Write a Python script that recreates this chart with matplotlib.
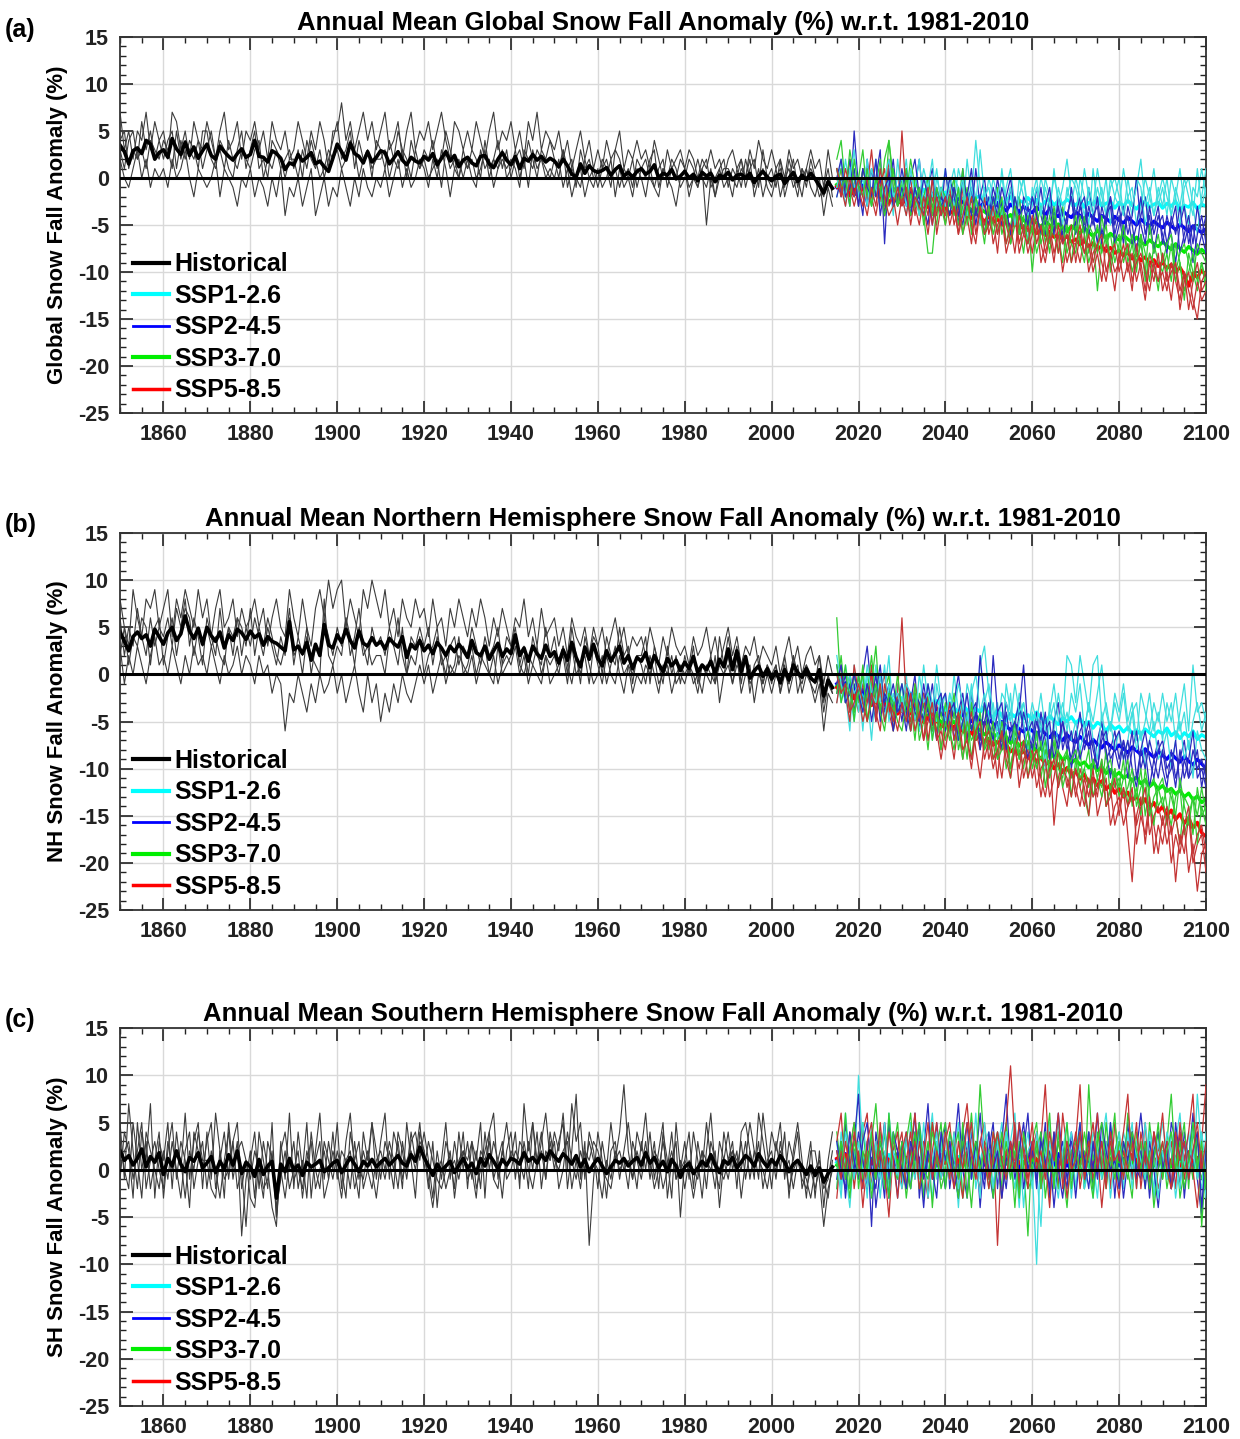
import numpy as np
import matplotlib.pyplot as plt
from matplotlib.lines import Line2D
from matplotlib.ticker import MultipleLocator

plt.rcParams['font.family'] = ['Liberation Sans', 'DejaVu Sans']
plt.rcParams['font.weight'] = 'bold'
plt.rcParams['axes.unicode_minus'] = False

# ---------------- (a) global ----------------
glb_hist_mean = [
    3.5, 2.8, 1.5, 2.9, 3.2, 2.6, 4.0, 3.6, 2.0, 2.7,
    3.0, 2.2, 4.2, 3.1, 2.5, 3.8, 2.4, 3.3, 2.1, 2.9,
    3.6, 2.4, 2.0, 3.4, 2.8, 2.3, 1.9, 2.6, 3.1, 2.2,
    2.5, 4.0, 2.3, 2.2, 1.7, 2.9, 2.6, 2.1, 0.9, 1.6,
    1.4, 2.5, 1.8, 2.2, 2.7, 1.5, 1.8, 1.2, 0.7, 2.1,
    3.6, 2.8, 1.9, 3.7, 2.6, 2.3, 1.6, 2.8, 1.7, 2.2,
    2.9, 2.7, 1.5, 2.1, 2.8, 1.9, 1.4, 2.2, 1.8, 1.6,
    2.3, 1.9, 2.6, 1.4, 2.1, 2.8, 1.8, 2.4, 1.2, 1.9,
    2.2, 1.6, 1.3, 2.3, 2.4, 1.5, 1.1, 2.0, 2.7, 1.9,
    1.4, 2.3, 1.0, 2.1, 1.8, 2.5, 1.9, 2.3, 1.7, 2.1,
    1.8, 1.2, 2.0, 1.3, 0.4, 0.1, 1.5, 0.5, 1.3, 0.8,
    0.6, 0.8, 1.1, 0.3, 0.9, 1.3, 0.2, 0.6, 0.1, 0.7,
    1.0, 0.4, 0.7, 1.4, 0.0, 0.5, 0.3, 0.9, -0.1, 0.2,
    0.7, 0.0, 0.4, -0.3, 0.6, 0.2, 0.5, -0.4, 0.3, 0.1,
    0.6, -0.2, 0.3, 0.4, 0.0, 0.5, -0.5, 0.2, 0.7, 0.1,
    -0.3, 0.2, 0.4, -0.6, 0.0, 0.6, -0.4, 0.3, -0.2, 0.5,
    -0.1, -0.8, -1.6, -0.4, -1.1]
glb_hist_runs = [
    [7, 3, 5, 2, 5, 4, 7, 3, 6, 4,
     5, 2, 7, 6, 3, 5, 2, 6, 4, 3,
     6, 4, 2, 5, 7, 3, 4, 6, 2, 5,
     4, 6, 3, 5, 2, 6, 4, 3, 5, 2,
     3, 6, 4, 2, 5, 3, 6, 4, 1, 5,
     5, 8, 4, 6, 3, 5, 7, 4, 6, 3,
     5, 7, 3, 4, 6, 2, 5, 7, 3, 5,
     4, 6, 3, 5, 7, 4, 2, 6, 5, 3,
     5, 3, 6, 4, 2, 5, 7, 3, 5, 4,
     6, 3, 5, 2, 6, 4, 7, 3, 5, 4,
     3, 5, 2, 4, 1, 3, 5, 2, 4, 1,
     3, 1, 4, 2, 3, 5, 1, 3, 2, 4,
     2, 3, 1, 4, 2, 0, 3, 1, 2, 3,
     1, 3, 2, 0, 2, 1, 3, 1, 2, 0,
     2, 3, 1, 2, 0, 3, 1, 4, 2, 1,
     3, 1, 2, 0, 3, 1, 2, 0, 1, 3,
     1, 2, -1, 3, 0],
    [2, 0, -1, 1, 3, 0, 2, -1, 1, 0,
     1, -1, 2, 0, 1, 3, 0, -2, 1, 0,
     -1, 0, 2, -2, 1, 0, -1, -3, 0, -1,
     1, -2, 0, -1, -3, 0, -2, 1, -4, -1,
     -2, 0, -3, -1, 1, -4, -2, 0, -3, -1,
     -2, 1, -1, -3, 0, -2, 1, -1, -2, 0,
     -1, 1, -2, 0, 2, -1, 1, -1, 0, 2,
     1, -1, 2, 0, 3, 1, -2, 1, 2, 0,
     2, 0, -1, 3, 1, 2, -1, 1, 3, 0,
     1, 3, 0, 2, -1, 3, 1, 2, 0, 1,
     0, 2, -1, 1, -2, 0, 1, -2, 0, -1,
     1, -1, 0, 2, -2, 1, -1, 0, -2, 1,
     0, -2, 1, -1, -2, 1, 0, -1, -3, 0,
     1, -2, 0, -1, 1, -5, 0, -2, 1, -1,
     0, -2, 1, -1, 2, 0, -1, 1, -2, 0,
     -1, 1, -2, 0, 1, -1, 0, -2, 1, -1,
     -2, 0, -4, -1, -3],
    [4, 5, 1, 3, 2, 6, 3, 5, 2, 4,
     2, 4, 5, 1, 4, 2, 4, 3, 1, 5,
     5, 2, 1, 4, 3, 1, 0, 3, 5, 1,
     3, 5, 1, 2, 0, 4, 3, 1, 2, 3,
     1, 3, 0, 4, 2, 1, 3, 0, 2, 4,
     6, 2, 3, 5, 1, 4, 2, 3, 0, 4,
     3, 1, 4, 2, 5, 3, 0, 4, 2, 1,
     3, 2, 4, 1, 2, 5, 3, 1, 0, 3,
     1, 3, 2, 0, 4, 1, 2, 4, 1, 3,
     0, 2, 3, 1, 4, 2, 0, 3, 2, 4,
     2, 0, 3, 1, 2, -1, 3, 1, 2, 0,
     0, 2, 1, -1, 3, 2, 0, 1, -1, 2,
     1, 0, 2, 3, -1, 1, 0, 2, 1, -1,
     0, 2, 1, -1, 1, 2, -1, 0, 1, 2,
     -1, 1, 0, 2, -1, 1, 2, -1, 3, 0,
     1, -1, 2, -2, 0, 2, -1, 1, -1, 2,
     0, -2, -1, 1, -2],
    [3, 1, 4, 5, 2, 3, 1, 4, 3, 2,
     4, 3, 1, 5, 2, 4, 3, 2, 4, 1,
     3, 5, 2, 3, 1, 4, 2, 1, 3, 2,
     1, 3, 4, 0, 2, 1, 3, 2, 0, 2,
     2, 0, 3, 1, 4, 2, 0, 1, 3, 2,
     3, 1, 2, 4, 3, 0, 2, 3, 1, 2,
     2, 3, 0, 2, 1, 3, 2, 0, 3, 1,
     2, 0, 1, 2, -1, 3, 1, 2, 0, 2,
     1, 2, 0, 1, 3, 0, 2, 1, 2, 1,
     2, 1, -1, 3, 2, 1, 3, 2, 1, 0,
     2, 1, 3, -1, 1, 0, -1, 2, 0, 1,
     -1, 1, 2, 0, 1, -1, 1, 0, 2, -1,
     1, 2, 0, -1, 1, 2, -1, 1, 0, 2,
     1, -1, 0, 2, 0, -1, 1, -2, 0, 1,
     1, 0, -1, 1, 0, 2, -2, 0, 1, -1,
     -2, 0, 1, -1, 2, 0, -2, 1, 0, 1,
     0, -1, -2, 0, -1]]

glb_ssp126_mean = [
    -0.8, -1.2, -0.5, -1.6, -0.9,
    -1.3, -0.7, -1.8, -1.1, -1.5, -0.9, -2.0, -1.2, -1.6, -1.0,
    -1.7, -1.3, -2.1, -1.4, -1.9, -1.2, -2.2, -1.6, -1.8, -2.4,
    -1.5, -2.0, -2.6, -1.8, -2.3, -1.7, -2.5, -2.1, -1.9, -2.7,
    -2.2, -2.6, -1.9, -2.8, -2.3, -2.0, -2.9, -2.4, -2.6, -2.1,
    -2.7, -2.3, -3.0, -2.5, -2.2, -2.9, -2.4, -2.8, -2.3, -2.6,
    -2.9, -2.4, -3.1, -2.6, -2.8, -2.2, -3.0, -2.7, -2.5, -3.2,
    -2.6, -3.0, -2.4, -2.9, -3.3, -2.7, -2.5, -3.1, -2.8, -2.6,
    -3.2, -2.7, -3.0, -2.5, -3.4, -2.9, -3.1, -2.6, -3.3, -2.8,
    -3.0]
glb_ssp126_runs = [
    [1, -2, 2, -1, 0,
     -3, 1, 0, -2, 2, -1, -4, 1, -2, 0,
     -1, 2, -3, 0, -2, 1, -1, -4, 0, -2,
     1, -3, 0, -1, -4, 2, -2, 4, -1, -3,
     0, -2, -4, 1, -3, -1, -5, 0, -2, -7,
     -1, -3, 0, -2, -4, 1, -3, -1, 2, -2,
     -4, 0, -2, -5, 1, -3, -1, -4, 0, -2,
     -3, 1, -2, -4, 0, -1, -5, -2, 1, -3,
     -1, -4, 0, -2, 1, -3, -5, -1, -2, 1,
     -2],
    [-2, 0, -3, 1, -1,
     0, -2, 2, -3, -1, 1, -2, 0, -4, 2,
     -2, -4, 0, -1, 2, -3, 0, -2, 1, -3,
     -2, 0, -3, 1, -1, -4, 0, -2, -5, -1,
     -3, 0, -2, -4, -1, 1, -3, -2, 0, -4,
     -3, -1, -4, 0, -2, -5, -1, -3, -2, 0,
     -1, -3, 1, -2, -4, -1, -3, 0, -5, -2,
     0, -4, -2, -1, -5, -3, 0, -2, -4, -1,
     -3, 0, -4, -2, -5, -1, 0, -3, -6, -2,
     1],
    [-1, 2, -2, 0, 3,
     -2, 0, -3, 1, -1, -3, 0, 2, -2, -1,
     0, -3, 1, -2, -4, 0, -1, 2, -3, -1,
     -3, -1, 1, -2, 0, -4, -1, -3, 3, -2,
     -1, -4, -2, 0, -3, -1, -5, -2, 0, -3,
     -2, 0, -4, -1, -3, 0, -2, -5, -1, -3,
     0, -2, -4, -1, -3, 1, -2, -4, -1, 0,
     -2, -4, 0, -3, -1, 2, -3, -1, -4, -2,
     0, -2, -4, -1, -3, 0, -2, -4, 1, -3,
     -1]]
glb_ssp245_mean = [
    -1.0, -0.6, -1.5, -0.9, -1.8,
    -1.2, -0.8, -1.9, -1.4, -1.0, -2.1, -1.5, -1.7, -1.1, -2.2,
    -1.6, -2.0, -1.3, -2.4, -1.8, -2.1, -2.6, -1.7, -2.3, -2.0,
    -2.5, -1.9, -2.8, -2.2, -2.6, -3.0, -2.3, -2.7, -3.1, -2.5,
    -2.9, -3.3, -2.6, -3.1, -3.5, -2.8, -3.2, -3.6, -3.0, -3.4,
    -3.7, -3.1, -3.5, -3.9, -3.3, -3.8, -4.1, -3.5, -3.9, -4.2,
    -3.6, -4.0, -4.4, -3.8, -4.2, -4.6, -4.0, -4.3, -4.7, -4.1,
    -4.5, -4.8, -4.2, -4.6, -5.0, -4.4, -4.8, -5.1, -4.6, -5.0,
    -5.3, -4.7, -5.1, -5.5, -4.9, -5.3, -5.7, -5.1, -5.5, -5.8,
    -5.4]
glb_ssp245_runs = [
    [1, -2, 0, -3, 5,
     -1, -4, 2, -2, 0, 3, -7, 1, -3, -1,
     -2, 1, -4, -1, 2, -3, -5, 0, -2, -4,
     1, -3, -1, -5, 0, -2, -4, 1, -3, -6,
     -2, -4, 0, -3, -5, -1, -4, -6, -2, -3,
     -5, -1, -4, -6, -2, -5, -3, -7, -4, -2,
     -6, -3, -5, -1, -4, -7, -3, -5, -2, -6,
     -4, -7, -3, -5, -8, -4, -2, -6, -5, -3,
     -7, -4, -6, -9, -5, -3, -7, -5, -8, -6,
     -4],
    [-2, 0, -1, 2, -2,
     0, -1, -3, 1, -2, 0, -4, -1, 2, -3,
     -1, -3, 0, 2, -2, -4, -1, 1, -3, -2,
     -3, 0, -2, -4, 1, -3, -1, -5, -2, 0,
     -4, -1, -3, -5, -2, 0, -4, -2, -6, -3,
     -2, -4, -1, -5, -3, -6, -2, -4, -5, -1,
     -4, -2, -6, -3, -5, -2, -6, -4, -3, -7,
     -5, -3, -6, -4, 0, -5, -7, -3, -6, -4,
     -6, -8, -4, -6, -3, -7, -5, -9, -6, -4,
     -7],
    [0, 2, -2, -1, 1,
     -3, 1, -1, -2, 2, -4, -1, 0, -3, -2,
     1, -2, -4, -1, -3, 0, -2, -5, -1, -3,
     -2, -4, -1, -3, -5, -2, 1, -4, -2, -3,
     -5, -2, -4, -1, -3, -6, -2, -4, -3, -5,
     -2, -4, -6, -3, -1, -5, -3, -6, -4, -2,
     -5, -3, -2, -6, -4, -3, -7, -4, -2, -5,
     -3, -6, -4, -7, -5, -2, -6, -4, -8, -5,
     -4, -7, -5, -3, -8, -6, -4, -7, -3, -6,
     -8]]
glb_ssp370_mean = [
    -0.7, -1.3, -0.9, -1.7, -1.1,
    -1.5, -1.0, -2.0, -1.4, -1.8, -1.2, -2.2, -1.6, -2.4, -1.9,
    -2.1, -2.6, -1.8, -2.4, -2.9, -2.2, -2.7, -3.0, -2.5, -2.8,
    -3.1, -2.6, -3.3, -2.9, -3.5, -3.0, -3.4, -3.8, -3.2, -3.6,
    -3.9, -3.4, -4.1, -3.7, -4.3, -3.9, -4.6, -4.1, -4.5, -4.9,
    -4.4, -4.8, -5.2, -4.6, -5.0, -5.4, -4.9, -5.3, -5.7, -5.1,
    -5.5, -5.9, -5.3, -5.8, -6.2, -5.6, -6.0, -6.4, -5.9, -6.3,
    -6.6, -6.1, -6.5, -6.9, -6.3, -6.8, -7.1, -6.6, -7.0, -7.3,
    -6.8, -7.2, -7.6, -7.0, -7.5, -7.9, -7.3, -7.7, -8.1, -7.6,
    -8.0]
glb_ssp370_runs = [
    [2, 4, -1, 1, -2,
     0, 3, -2, 1, -1, 2, -3, 4, 0, -2,
     -1, 1, -3, 0, -2, -4, -8, -8, -3, -1,
     -4, -2, 0, -5, -3, -1, -6, -2, -4, -7,
     -3, -5, -1, -6, -4, -7, -2, -5, -8, -4,
     -10, -5, -3, -7, -4, -6, -8, -3, -6, -9,
     -5, -7, -4, -8, -6, -12, -7, -5, -9, -6,
     -8, -5, -9, -7, -10, -6, -8, -11, -7, -9,
     -10, -8, -11, -7, -9, -13, -8, -10, -12, -9,
     -11],
    [-1, 1, -2, 3, 0,
     -2, 1, -1, -3, 0, -2, 2, 4, -1, -3,
     0, -2, 2, -1, -4, -2, 0, -3, -5, -1,
     -2, -4, -1, -3, 1, -5, -2, -4, -3, -6,
     -5, -2, -6, -3, -4, -7, -5, -2, -6, -4,
     -6, -3, -7, -5, -8, -4, -6, -9, -5, -7,
     -8, -4, -6, -9, -7, -5, -8, -6, -10, -7,
     -6, -9, -7, -10, -8, -6, -11, -8, -9, -12,
     -8, -10, -7, -11, -9, -12, -10, -8, -11, -9,
     -12],
    [1, -1, 0, -3, 2,
     -1, -2, 1, -3, 0, -1, -4, -2, 1, -3,
     -2, 0, -4, -3, -1, -5, -2, -4, -1, -3,
     -5, -2, -4, -1, -6, -3, -5, -2, -4, -6,
     -3, -6, -4, -2, -7, -5, -3, -6, -4, -7,
     -5, -8, -6, -4, -7, -3, -6, -5, -8, -6,
     -4, -7, -9, -5, -6, -8, -4, -7, -6, -9,
     -7, -5, -8, -6, -9, -7, -10, -5, -8, -6,
     -9, -7, -6, -10, -8, -7, -9, -11, -7, -8,
     -9]]
glb_ssp585_mean = [
    -0.9, -1.4, -0.8, -1.9, -1.2,
    -1.6, -1.1, -2.2, -1.7, -1.3, -2.4, -1.9, -2.6, -2.0, -2.3,
    -2.8, -2.2, -3.0, -2.5, -3.3, -2.7, -3.1, -3.6, -2.9, -3.4,
    -3.2, -3.8, -3.4, -4.0, -3.6, -3.9, -4.3, -3.7, -4.2, -4.6,
    -4.1, -4.7, -4.4, -5.0, -4.6, -5.2, -4.8, -5.4, -5.1, -5.6,
    -5.3, -5.9, -5.5, -6.1, -5.7, -6.3, -6.0, -6.6, -6.2, -6.8,
    -6.5, -7.1, -6.7, -7.3, -6.9, -7.6, -7.2, -7.8, -7.4, -8.0,
    -7.7, -8.3, -7.9, -8.6, -8.1, -8.8, -8.4, -9.1, -8.7, -9.4,
    -9.0, -9.6, -9.2, -10.0, -9.5, -10.3, -11.5, -10.1, -10.6, -9.8,
    -10.4]
glb_ssp585_runs = [
    [-1, 1, -2, 2, 0,
     -3, 1, -1, 3, -2, 0, -4, 2, -1, -3,
     5, -2, 0, -4, -1, -3, -6, -2, -4, -1,
     -5, -2, -3, -6, -1, -4, -7, -3, -5, -2,
     -6, -4, -8, -3, -5, -7, -4, -8, -6, -5,
     -8, -5, -7, -9, -6, -4, -8, -6, -9, -7,
     -7, -9, -6, -10, -8, -7, -9, -11, -8, -10,
     -9, -7, -10, -8, -11, -9, -12, -8, -10, -11,
     -10, -12, -9, -11, -13, -10, -12, -14, -11, -13,
     -12],
    [0, -2, 1, -1, -3,
     -1, -3, 0, -2, -4, -1, 1, -3, -2, -5,
     -2, -4, -1, -3, -5, -2, -4, 0, -6, -3,
     -4, -1, -5, -3, -6, -4, -2, -6, -3, -5,
     -3, -7, -5, -4, -8, -6, -3, -7, -5, -8,
     -6, -4, -9, -7, -5, -8, -6, -10, -7, -5,
     -9, -6, -8, -7, -10, -8, -11, -7, -9, -12,
     -8, -11, -9, -12, -7, -10, -13, -9, -11, -8,
     -12, -10, -13, -9, -14, -11, -10, -13, -15, -11,
     -10],
    [1, -1, -3, 0, -2,
     0, -2, -4, -1, -3, 1, -2, -4, -3, -1,
     -3, -1, -5, -2, -3, -4, -1, -5, -2, -4,
     -2, -5, -3, -6, -4, -2, -5, -7, -3, -6,
     -5, -3, -6, -4, -7, -5, -8, -4, -6, -7,
     -4, -7, -5, -8, -6, -9, -5, -7, -6, -9,
     -7, -5, -8, -6, -9, -7, -6, -10, -8, -7,
     -10, -8, -7, -11, -9, -8, -10, -12, -9, -11,
     -8, -11, -10, -9, -12, -10, -14, -11, -9, -12,
     -11]]

# ---------------- (b) northern hemisphere ----------------
nh_hist_mean = [
    4.5, 3.5, 2.5, 4.0, 4.5, 3.8, 4.2, 3.0, 4.8, 4.0,
    3.2, 4.4, 5.0, 3.6, 4.3, 6.2, 4.6, 3.8, 4.9, 3.2,
    5.0, 4.1, 3.5, 4.5, 2.8, 4.2, 3.6, 4.8, 4.4, 3.7,
    4.6, 3.9, 4.3, 3.1, 4.0, 3.5, 3.3, 2.9, 2.5, 5.6,
    2.6, 3.0, 2.2, 3.4, 1.5, 3.2, 2.0, 5.3, 3.1, 2.8,
    4.2, 3.4, 4.8, 3.6, 2.8, 4.6, 3.3, 3.0, 3.9, 3.1,
    3.5, 2.7, 3.8, 3.3, 2.9, 4.0, 1.8, 3.2, 2.7, 3.6,
    2.5, 3.1, 2.2, 3.4, 2.8, 2.0, 3.0, 2.4, 3.2, 2.6,
    1.8, 3.6, 2.3, 2.0, 3.0, 1.6, 2.5, 3.3, 1.9, 2.7,
    2.2, 4.2, 2.0, 2.8, 1.4, 3.0, 2.2, 1.7, 3.1, 1.9,
    2.4, 1.2, 2.6, 1.5, 3.4, 1.8, 0.8, 2.9, 1.6, 3.2,
    1.7, 0.9, 2.5, 1.4, 2.2, 3.0, 1.2, 2.0, 0.6, 1.8,
    1.4, 2.3, 0.7, 2.0, 1.1, 0.3, 1.7, 0.9, 1.5, 0.4,
    1.3, 0.6, 1.9, 0.2, 1.0, 0.5, 1.4, 0.1, 1.6, 0.8,
    2.7, 0.5, 2.5, 0.3, 1.9, -0.4, 0.4, 0.9, -0.2, 0.6,
    -0.5, 0.3, -0.9, 0.5, -0.6, 1.0, 0.2, -0.3, 0.6, -0.4,
    -0.8, 0.5, -2.3, -0.6, -1.4]
nh_hist_runs = [
    [8, 5, 3, 9, 6, 4, 8, 7, 9, 5,
     7, 9, 4, 8, 6, 9, 7, 5, 9, 6,
     8, 4, 7, 9, 5, 6, 8, 4, 7, 5,
     6, 8, 5, 7, 3, 6, 8, 5, 4, 9,
     6, 4, 8, 5, 3, 7, 9, 6, 10, 7,
     9, 10, 5, 8, 6, 4, 9, 7, 10, 8,
     6, 9, 5, 7, 4, 8, 6, 5, 8, 6,
     7, 4, 8, 5, 6, 3, 7, 5, 8, 6,
     4, 7, 5, 8, 6, 3, 6, 4, 7, 5,
     3, 6, 5, 8, 4, 6, 3, 7, 4, 5,
     6, 3, 5, 2, 6, 4, 3, 5, 2, 4,
     3, 5, 2, 4, 6, 3, 5, 2, 4, 3,
     4, 2, 5, 3, 1, 4, 2, 5, 3, 2,
     3, 1, 4, 2, 3, 5, 2, 4, 1, 3,
     5, 2, 4, 1, 3, 2, 4, 1, 3, 2,
     1, 3, 0, 2, 4, 1, 3, 0, 2, 3,
     1, 2, -1, 2, 0],
    [3, -1, 2, 0, 3, 1, -1, 2, 4, 1,
     2, 0, 3, 1, -1, 2, 0, 3, 1, 2,
     0, 3, 1, -1, 2, 0, 1, 3, 0, 2,
     1, -1, 2, 0, 1, -2, 0, -1, -6, -2,
     -3, 0, -2, -4, -1, -3, 0, -2, -1, 1,
     -2, 0, -3, -1, 1, -2, -4, 0, -3, -1,
     -5, -2, -4, -1, -3, 0, -2, -3, -1, 1,
     -1, 1, -2, 0, 2, -1, 1, 0, 2, 1,
     0, 2, -1, 1, 3, 0, 2, -1, 1, 2,
     1, 3, 0, 2, -1, 1, 3, 0, 2, 1,
     2, 0, 3, 1, -1, 2, 0, 3, 1, -1,
     0, 2, -1, 1, 3, 0, -2, 1, 0, 2,
     1, -1, 2, 0, -2, 1, 0, 2, -1, 0,
     -1, 1, 0, -2, 1, 0, -1, 2, -3, 0,
     1, -1, 2, -2, 0, 1, -3, 0, -1, 1,
     -1, 1, -2, 0, -1, 2, -2, 0, 1, -1,
     -3, -1, -6, -2, -3],
    [6, 2, 5, 3, 7, 4, 2, 6, 3, 5,
     4, 6, 3, 7, 5, 8, 3, 6, 4, 1,
     6, 4, 2, 7, 3, 5, 4, 6, 2, 5,
     3, 6, 4, 2, 5, 3, 1, 4, 2, 6,
     1, 4, 2, 5, 0, 3, 2, 6, 4, 2,
     5, 3, 6, 2, 4, 7, 3, 1, 5, 3,
     4, 2, 5, 3, 6, 2, 0, 4, 3, 5,
     3, 5, 1, 4, 2, 0, 3, 4, 1, 3,
     2, 5, 3, 1, 4, 2, 3, 5, 1, 4,
     3, 5, 1, 3, 0, 4, 2, 1, 5, 2,
     4, 1, 3, 0, 5, 2, -1, 4, 2, 5,
     3, 0, 4, 2, 1, 5, 2, 3, -1, 2,
     2, 4, -1, 3, 1, -1, 3, 0, 2, -1,
     2, 0, 3, -1, 1, 0, 2, -1, 4, 1,
     4, 1, 3, -1, 2, -2, 1, 2, -1, 1,
     0, 1, -2, 2, -1, 2, 0, -1, 1, 0,
     -1, 2, -3, 0, -2],
    [2, 5, 1, 4, 3, 6, 5, 1, 5, 6,
     1, 4, 6, 2, 5, 7, 6, 2, 5, 3,
     5, 3, 4, 2, 1, 5, 2, 6, 5, 3,
     7, 2, 5, 3, 6, 4, 2, 1, 3, 7,
     2, 3, 0, 4, 2, 1, 0, 8, 2, 1,
     3, 2, 6, 4, 1, 5, 2, 3, 1, 2,
     2, 0, 4, 3, 1, 5, 0, 2, 1, 4,
     0, 2, 3, 5, 1, 2, 0, 1, 4, 0,
     1, 3, 0, 2, 1, 0, -1, 3, 0, 1,
     2, 4, 1, 0, 2, 1, 0, -1, 2, -1,
     0, 1, 2, -1, 3, 0, 1, 2, -1, 3,
     1, -1, 2, 0, -1, 2, 0, 1, -2, 0,
     -1, 1, 0, 2, -1, 0, 1, -2, 0, 1,
     0, 1, -1, 0, -2, 1, 0, -1, 1, 0,
     2, -1, 1, 0, 2, -1, 0, 1, -2, 0,
     -2, 0, -1, 1, -2, 0, 1, -2, 0, -1,
     -2, 0, -4, -1, -2]]

nh_ssp126_mean = [
    -1.2, -0.5, -1.8, -1.0, -2.2,
    -1.5, -2.4, -1.1, -2.0, -2.8, -1.7, -2.5, -1.9, -3.0, -2.2,
    -2.6, -3.1, -2.0, -2.9, -3.4, -2.5, -3.0, -3.6, -2.8, -3.3,
    -3.9, -3.0, -3.5, -4.1, -3.2, -3.8, -4.3, -3.6, -4.0, -3.4,
    -4.2, -4.6, -3.8, -4.4, -4.9, -4.1, -4.5, -3.9, -4.7, -4.3,
    -4.8, -4.0, -4.6, -5.1, -4.4, -4.9, -5.3, -4.6, -5.0, -4.5,
    -5.2, -4.7, -5.5, -5.0, -5.7, -5.1, -5.4, -6.0, -5.3, -5.8,
    -5.5, -6.1, -5.6, -6.3, -5.9, -6.4, -5.8, -6.2, -6.6, -6.0,
    -6.3, -5.7, -6.5, -6.1, -6.8, -6.2, -6.6, -6.0, -6.9, -6.4,
    -6.7]
nh_ssp126_runs = [
    [0, -3, 1, -2, -5,
     -1, -6, 0, -3, 1, -4, -2, 2, -5, -1,
     -3, 0, -6, -2, -4, 1, -3, -7, -1, -4,
     -2, -5, 0, -4, -6, -1, -3, -5, 1, 3,
     -2, -5, -3, -7, -1, -4, -6, -2, -5, -8,
     -4, -7, -5, -9, -3, -6, -2, -5, 2, 1,
     -3, 2, -1, -4, 1, 2, -5, -3, -6, -2,
     -4, -1, -5, -3, -7, -2, -4, -6, -3, -5,
     -2, -5, -3, -7, -4, -1, -6, 1, -4, -3,
     -5],
    [-3, 0, -2, -6, 1,
     -4, 0, -2, -7, -1, -3, 1, -5, -2, -4,
     -1, -5, -3, -2, -6, -4, -1, -3, -5, -2,
     -6, -2, -4, -7, -3, -5, -1, -6, -4, -2,
     -5, -3, -7, -4, -6, -2, -8, -5, -3, -6,
     -7, -4, -6, -10, -5, -3, -8, -6, -4, -7,
     -5, -8, -6, -3, -7, -9, -4, -7, -5, -8,
     -6, -9, -7, -4, -8, -6, -10, -7, -5, -9,
     -8, -6, -10, -7, -5, -9, -7, -11, -6, -8,
     -9],
    [2, -1, -3, 0, -2,
     -1, -4, 1, -2, -3, 0, -5, -1, -3, -2,
     -4, -1, -2, -5, 0, -3, -2, -4, 1, -3,
     -5, -2, -4, -1, -3, -6, -2, 0, -4, -3,
     -1, -4, -6, -2, -3, -5, -1, -4, -3, -6,
     -3, -5, -2, -6, -4, -1, -5, -3, -6, -2,
     -4, -1, -6, -3, -5, -2, 1, -4, -6, -3,
     -5, -2, -6, -4, -3, -7, -5, -2, -6, -4,
     -7, -3, -5, -2, -6, -4, -8, -5, -3, -6,
     -4]]
nh_ssp245_mean = [
    -1.0, -1.8, -0.9, -2.1, -1.5,
    -2.3, -1.6, -2.7, -2.0, -2.9, -2.4, -3.1, -2.6, -3.4, -2.8,
    -3.2, -3.7, -2.9, -3.5, -4.0, -3.3, -3.8, -4.2, -3.6, -4.1,
    -4.5, -3.9, -4.4, -4.8, -4.2, -4.7, -5.0, -4.4, -4.9, -5.3,
    -4.8, -5.2, -5.6, -5.0, -5.5, -5.9, -5.3, -5.8, -6.1, -5.6,
    -6.0, -6.4, -5.8, -6.3, -6.7, -6.1, -6.6, -7.0, -6.4, -6.9,
    -7.2, -6.6, -7.1, -7.5, -6.9, -7.4, -7.8, -7.2, -7.6, -8.0,
    -7.5, -7.9, -8.3, -7.7, -8.1, -8.5, -7.9, -8.4, -8.8, -8.2,
    -8.6, -9.0, -8.4, -8.9, -9.3, -8.7, -9.2, -9.6, -9.0, -9.5,
    -10.0]
nh_ssp245_runs = [
    [1, -2, 0, -4, -1,
     -3, 0, 3, -2, -5, 0, -3, -1, -4, -2,
     -5, -1, -3, 0, -6, -2, -4, -1, -5, -3,
     -2, -6, -3, 0, -4, -7, -2, -5, 2, -3,
     -6, 2, -4, -7, -3, -5, -8, -4, 1, -6,
     -5, -8, -4, -7, -9, -5, -3, -8, -6, -10,
     -7, -4, -8, -6, -10, -7, -5, -9, -8, -6,
     -9, -7, -11, -8, -6, -10, -8, -12, -9, -7,
     -10, -12, -8, -11, -9, -7, -11, -10, -8, -12,
     -9],
    [-2, 0, -3, -1, -4,
     0, -3, -1, -5, -2, 1, -4, -2, -6, -3,
     -1, -4, -6, -2, -3, -5, -1, -4, -7, -3,
     -5, -3, -7, -4, -2, -6, -4, -3, -8, -5,
     -3, -6, -5, -8, -4, -7, -5, -3, -6, -9,
     -7, -4, -8, -6, -5, -9, -7, -5, -8, -6,
     -9, -6, -5, -8, -7, -10, -6, -8, -11, -7,
     -6, -9, -7, -10, -12, -8, -6, -9, -11, -8,
     -7, -10, -9, -12, -8, -11, -9, -6, -11, -10,
     -12],
    [-1, 1, -3, -2, 0,
     -2, -4, -1, -3, 0, -5, -2, -3, -1, -4,
     -3, -6, -2, -4, -5, -1, -4, -6, -3, -2,
     -6, -4, -3, -7, -5, -2, -6, -4, -7, -3,
     -5, -7, -4, -3, -8, -6, -5, -7, -4, -6,
     -8, -5, -7, -4, -9, -6, -8, -5, -7, -9,
     -6, -9, -7, -5, -8, -10, -7, -6, -9, -8,
     -10, -7, -9, -6, -11, -8, -10, -7, -9, -11,
     -8, -11, -10, -7, -12, -9, -11, -8, -10, -9,
     -11]]
nh_ssp370_mean = [
    -1.3, -0.8, -2.0, -1.5, -2.4,
    -1.9, -2.8, -2.3, -3.1, -2.6, -3.4, -2.9, -3.7, -3.2, -3.9,
    -3.5, -4.1, -3.7, -4.4, -4.0, -4.7, -4.3, -5.0, -4.5, -5.1,
    -4.8, -5.4, -5.0, -5.7, -5.3, -5.9, -5.5, -6.2, -5.8, -6.4,
    -6.1, -6.7, -6.3, -7.0, -6.6, -7.3, -6.9, -7.6, -7.2, -7.9,
    -7.5, -8.2, -7.8, -8.5, -8.1, -8.8, -8.4, -9.1, -8.7, -9.4,
    -9.0, -9.6, -9.3, -9.9, -9.5, -10.2, -9.8, -10.5, -10.1, -10.8,
    -10.4, -11.0, -10.7, -11.3, -10.9, -11.6, -11.2, -11.9, -11.5, -12.2,
    -11.8, -12.4, -12.1, -12.7, -12.3, -13.0, -12.6, -13.3, -12.9, -13.6,
    -13.2]
nh_ssp370_runs = [
    [6, -2, 1, -4, 0,
     -3, 1, -5, -1, 3, -4, -2, 0, -6, -3,
     -1, -5, -3, -7, -2, -4, -8, -3, -6, -4,
     -7, -5, -2, -8, -6, -4, -9, -5, -7, -3,
     -8, -6, -9, -5, -7, -11, -6, -8, -10, -7,
     -9, -6, -11, -8, -10, -7, -12, -9, -8, -11,
     -10, -8, -13, -15, -9, -11, -12, -8, -13, -10,
     -12, -9, -14, -11, -13, -10, -15, -12, -11, -14,
     -13, -16, -12, -15, -18, -13, -14, -17, -12, -15,
     -14],
    [-2, 2, -3, 0, -5,
     0, -4, -2, 2, -3, -1, -5, -2, -4, 0,
     -4, -2, -6, -1, -5, -3, -2, -7, -4, -6,
     -3, -6, -8, -4, -5, -9, -3, -7, -5, -8,
     -5, -9, -7, -6, -10, -8, -5, -9, -7, -11,
     -8, -10, -7, -12, -9, -6, -10, -11, -8, -13,
     -9, -12, -10, -8, -13, -11, -9, -14, -12, -10,
     -13, -11, -9, -14, -12, -15, -10, -13, -16, -12,
     -11, -14, -16, -13, -12, -17, -15, -13, -18, -14,
     -16],
    [1, -3, -1, -2, -4,
     -2, 0, -5, -3, -1, -4, -6, -2, -3, -5,
     -6, -3, -4, -2, -7, -5, -3, -6, -4, -8,
     -5, -7, -4, -6, -9, -5, -7, -6, -4, -8,
     -7, -5, -9, -8, -6, -10, -7, -9, -8, -6,
     -10, -8, -9, -7, -11, -9, -8, -12, -10, -9,
     -8, -11, -10, -12, -9, -11, -13, -10, -9, -12,
     -11, -13, -12, -10, -14, -12, -11, -15, -13, -12,
     -14, -12, -13, -15, -11, -14, -16, -13, -15, -12,
     -15]]
nh_ssp585_mean = [
    -1.4, -0.9, -2.1, -1.6, -2.6,
    -2.0, -3.0, -2.5, -3.3, -2.8, -3.6, -3.1, -3.9, -3.4, -4.2,
    -3.8, -4.5, -4.0, -4.8, -4.3, -5.1, -4.6, -5.3, -4.9, -5.6,
    -5.2, -5.9, -5.5, -6.2, -5.8, -6.6, -6.1, -6.9, -6.4, -7.2,
    -6.8, -7.5, -7.1, -7.9, -7.4, -8.2, -7.8, -8.6, -8.1, -8.9,
    -8.5, -9.3, -8.8, -9.6, -9.2, -10.0, -9.5, -10.4, -9.9, -10.7,
    -10.3, -11.1, -10.6, -11.5, -11.0, -11.8, -11.3, -12.2, -11.7, -12.6,
    -12.1, -13.0, -12.5, -13.4, -12.9, -13.8, -13.2, -14.2, -13.6, -14.6,
    -14.0, -15.0, -14.4, -15.4, -14.8, -15.8, -15.2, -16.3, -15.7, -16.8,
    -17.2]
nh_ssp585_runs = [
    [-1, 1, -3, 0, -2,
     -4, -1, -3, 1, -5, -2, 0, -4, -6, -2,
     6, -3, -5, -1, -4, -7, -2, -5, -3, -8,
     -4, -6, -9, -5, -3, -7, -10, -6, -8, -5,
     -9, -7, -11, -6, -8, -10, -7, -12, -9, -8,
     -11, -9, -13, -10, -8, -16, -11, -9, -12, -10,
     -13, -10, -12, -15, -11, -13, -9, -14, -12, -16,
     -14, -12, -17, -22, -15, -13, -18, -14, -16, -19,
     -15, -18, -16, -22, -17, -19, -15, -20, -18, -17,
     -21],
    [-3, 0, -2, -5, 1,
     -2, -5, -3, 0, -4, -6, -1, -3, -5, -2,
     -4, -1, -6, -3, -5, -2, -7, -4, -6, -9,
     -6, -3, -7, -5, -9, -6, -4, -8, -11, -7,
     -6, -9, -8, -11, -7, -10, -8, -6, -11, -9,
     -8, -12, -10, -9, -13, -11, -8, -12, -14, -10,
     -12, -14, -11, -13, -10, -15, -13, -11, -16, -14,
     -13, -16, -14, -12, -18, -15, -17, -13, -19, -16,
     -18, -15, -20, -17, -19, -16, -21, -18, -23, -19,
     -18],
    [0, -2, -1, -4, -3,
     -1, -3, -5, -2, -4, -1, -5, -3, -4, -6,
     -3, -5, -2, -6, -4, -7, -5, -3, -7, -6,
     -8, -5, -6, -4, -8, -7, -9, -6, -5, -9,
     -7, -10, -8, -6, -9, -11, -8, -10, -7, -11,
     -9, -8, -11, -13, -10, -9, -12, -10, -11, -13,
     -10, -12, -14, -11, -13, -12, -10, -14, -13, -11,
     -15, -12, -14, -13, -16, -14, -12, -17, -15, -14,
     -16, -14, -17, -15, -18, -16, -14, -19, -17, -16,
     -19]]

# ---------------- (c) southern hemisphere ----------------
sh_hist_mean = [
    2.0, 1.0, 1.5, 0.5, 1.2, 2.2, 0.3, 1.4, 0.8, 1.8,
    -0.5, 1.2, 0.4, 2.0, 0.6, -0.2, 1.3, 0.9, 1.8, 0.2,
    0.7, 1.4, -0.3, 0.9, 0.1, 1.6, 0.5, 2.0, -0.4, 0.8,
    0.3, -0.7, 1.1, -0.5, 0.4, 0.9, -3.0, 0.6, -0.2, 1.2,
    0.0, 0.5, -0.6, 0.8, 0.3, 0.6, 1.0, -0.2, 0.2, 0.7,
    1.0, -0.3, 0.5, 1.3, 0.6, -0.2, 0.9, 0.4, 1.1, 0.3,
    0.8, 1.2, 0.5, 1.0, 1.5, 0.7, 0.4, 1.6, 0.9, 2.4,
    1.3, 0.4, -0.6, 0.6, -0.1, 0.4, 0.9, -0.3, 0.5, 1.2,
    0.2, 0.7, -0.4, 1.2, 0.4, 1.6, 0.9, 0.1, 1.1, 0.5,
    1.2, 1.0, 0.6, 1.8, 0.9, 1.3, 0.7, 1.6, 1.0, 2.0,
    1.4, 0.9, 1.7, 1.2, 0.6, 1.5, 0.3, 1.1, -0.2, 0.6,
    1.2, 0.4, -0.4, 0.3, 1.0, 0.7, 1.2, 0.4, 0.9, 1.3,
    0.5, 1.8, 0.7, 1.3, 0.2, 0.9, -0.2, 1.1, 0.4, -0.8,
    0.3, 0.7, -0.4, 0.2, 0.9, 0.4, 1.6, 0.5, -0.3, 1.0,
    0.6, 1.3, 0.2, 0.8, 1.5, 1.1, 0.4, 1.7, 0.9, 0.3,
    1.1, 0.5, 1.5, 0.8, -0.2, 0.6, 1.0, 0.3, -0.5, 0.4,
    -0.6, 0.2, -1.3, -0.4, 0.3]
sh_hist_runs = [
    [5, -1, 7, 2, -2, 4, 1, 7, -3, 3,
     1, 5, -2, 4, 0, 6, -1, 3, 5, -2,
     4, -1, 6, 2, -3, 5, 0, 3, -7, -1,
     2, -3, 4, 1, -2, 5, -5, 3, -1, 6,
     -2, 4, 0, 5, -3, 2, 6, -1, 3, 0,
     5, -2, 3, 6, 0, -3, 4, 1, 5, -1,
     3, 6, -1, 4, 2, -2, 5, 1, -3, 4,
     2, -2, 3, -4, 1, 5, -1, 3, 0, 4,
     -2, 3, 1, 5, -3, 4, 6, -1, 2, 5,
     1, 4, -2, 7, 2, 5, 0, 3, 6, 1,
     4, 2, 6, 0, 7, 3, 5, -1, 4, 2,
     -2, 3, 0, 5, 1, 4, 9, 2, -1, 4,
     2, 6, 0, 3, -2, 4, 1, -3, 5, 0,
     3, -1, 4, 1, -3, 2, 6, 0, -2, 4,
     1, 3, -2, 4, 5, 2, -1, 6, 3, 0,
     4, 2, 5, -1, 3, 1, 4, -2, 0, 3,
     -3, 2, -4, 1, 4],
    [-1, 4, 2, -3, 5, 0, 3, -2, 1, 4,
     -3, 2, 5, -1, 3, 1, -4, 4, 2, 0,
     3, 5, -2, 1, 4, -1, 3, -2, 0, -6,
     1, 4, -2, 3, 0, -4, -6, 2, 4, 0,
     3, -2, 1, -3, 4, 0, -2, 3, 1, -1,
     2, 0, -3, 4, 1, 3, -2, 0, 5, 2,
     -1, 3, 1, -2, 4, 2, -1, 3, 4, 1,
     4, 1, -3, 2, -1, 3, 1, -2, 4, 0,
     3, -1, 2, -2, 4, 0, 3, 1, -3, 2,
     4, -1, 3, 2, -2, 5, 1, 4, -1, 3,
     0, 3, 5, -2, 2, 8, -1, 3, -8, -1,
     4, 1, -3, 2, 3, -1, 2, 5, 1, -2,
     3, 0, 4, -1, 2, 5, -3, 1, 3, -5,
     1, 4, -2, 3, 0, 5, 1, -2, 3, 1,
     4, 0, 2, -3, 1, 5, 2, -1, 6, 2,
     -2, 3, 0, 4, -3, 2, 5, 1, -3, 2,
     2, -1, -6, -2, 0],
    [3, 0, -2, 5, 1, -3, 4, 2, 0, -2,
     2, -1, 3, 0, -3, 2, 4, -2, 1, 3,
     -2, 2, 0, -3, 1, 4, -1, 2, 3, 1,
     -1, 2, 0, -3, 3, 1, -4, -1, 2, -2,
     0, 2, -3, 1, 3, -2, 0, 2, -1, 4,
     -1, 2, 1, -2, 3, -1, 2, 0, -2, 1,
     2, 0, 3, 1, -2, 3, 0, 4, 1, 5,
     0, 3, 1, -1, -2, 0, 2, -3, 1, 2,
     1, 3, -2, 0, 2, 4, -1, 1, 3, -1,
     0, 2, 1, -1, 3, 0, 4, -2, 2, 1,
     3, -2, 0, 4, 1, -1, 2, 0, 3, 1,
     0, -3, 1, -1, 2, 0, 1, -2, 3, 1,
     -1, 2, 1, -2, 0, 3, 0, 2, -1, 1,
     -2, 1, 0, -1, 2, -2, 3, 1, 0, -1,
     1, 2, 0, 3, -1, 2, 0, 3, -2, 1,
     2, -1, 3, 0, 1, -2, 1, 0, -1, -3,
     0, 1, -2, -1, 2],
    [0, 2, 3, -1, 2, 5, -2, 1, 3, 0,
     -2, 3, 0, 2, 1, -3, 2, 0, 4, 1,
     1, -2, -3, 2, -1, 0, 3, 5, -2, 1,
     -3, -4, 1, -2, -1, 2, -5, 0, -3, 1,
     -1, 0, -2, 2, 0, 1, 3, -3, -1, 2,
     0, -3, 1, 2, -2, 0, -1, 2, 0, -3,
     1, -1, 2, 0, 3, -1, 1, 2, 0, 3,
     2, -1, -4, 0, 1, -2, 0, 1, -1, 2,
     -1, 0, -3, 2, 1, 3, -1, -2, 2, 0,
     2, 1, -1, 3, 0, -2, 1, 2, -1, 4,
     1, 0, 2, 3, -2, 1, -2, 2, 1, 3,
     2, 0, -1, -2, 1, 2, 0, 1, -1, 2,
     0, 3, -1, 2, 1, -2, 0, 4, -1, 0,
     1, 0, -3, 0, 2, 1, 0, 2, -4, 1,
     -1, 2, 1, 0, 3, -1, 2, 1, 0, -2,
     1, 0, 2, 1, -2, 0, 1, -1, -2, 0,
     -2, 0, -1, -3, 1]]

sh_ssp126_mean = [
    0.8, 1.5, 0.2, 1.9, 0.6,
    1.2, 0.4, 1.8, 0.9, 0.1, 1.4, 0.7, 1.6, 0.3, 1.1,
    0.5, 1.3, 0.8, 1.9, 0.2, 1.0, 1.5, 0.6, 1.2, 0.4,
    1.7, 0.9, 0.3, 1.4, 0.8, 1.6, 0.5, 1.1, 0.2, 1.3,
    0.7, 1.5, 0.4, 1.0, 1.8, 0.6, 1.2, 0.3, 0.9, 1.4,
    0.5, 1.1, -0.3, 0.8, 1.3, 0.4, 1.0, 0.6, 1.5, 0.2,
    1.2, 0.7, 1.6, 0.3, 0.9, 1.4, 0.5, 1.1, 0.8, 0.2,
    1.3, 0.6, 1.0, 0.4, 1.5, 0.9, 0.3, 1.2, 0.7, 1.1,
    0.4, 1.0, 0.6, 1.4, 0.2, 0.9, 1.3, 0.5, 0.8, 0.3,
    0.7]
sh_ssp126_runs = [
    [3, -2, 6, 1, -1,
     10, 2, -3, 5, 0, 4, -2, 6, 1, -1,
     3, -2, 5, 0, 4, -3, 2, 6, -1, 3,
     -2, 4, 1, 5, -3, 2, 0, 6, -1, 3,
     4, -2, 2, 5, -1, 3, 6, -2, 1, 4,
     0, -10, 3, 1, 5, -2, 4, 0, 3, -3,
     2, 5, -1, 4, 1, -3, 3, 6, 0, 2,
     -1, 4, 2, 5, -2, 3, 0, 4, -3, 2,
     5, 1, -2, 3, 6, 0, 4, -1, 8, 2,
     -3],
    [-2, 4, 0, -4, 2,
     -1, 5, 1, -2, 3, -3, 2, 0, 4, -1,
     1, 4, -2, 2, -1, 5, 0, -3, 3, 1,
     4, -1, 2, -4, 3, 0, 5, -2, 1, 3,
     -1, 3, 0, -3, 4, 1, -2, 3, -4, 2,
     3, 0, -6, 4, -2, 2, 5, -1, 2, 4,
     -2, 3, 0, 4, -3, 1, 2, -1, 5, 0,
     3, -2, 4, 0, 2, -1, 5, 1, -2, 3,
     0, 4, 2, -3, 1, 3, -1, 5, 0, -2,
     4],
    [1, -3, 4, 2, -1,
     3, 0, -2, 4, 1, -1, 5, -3, 2, 0,
     -2, 3, 1, -1, 5, 2, -3, 1, 4, -1,
     2, 0, 4, -2, 1, 3, -1, 2, -3, 5,
     1, -2, 3, 0, 4, -1, 2, -4, 3, 1,
     -2, 4, 1, -1, 3, 0, -3, 2, 5, -1,
     1, 3, -2, 0, 4, 2, -1, 3, -3, 1,
     4, 0, 2, -2, 3, 1, -1, 4, 2, -3,
     2, -1, 4, 1, -2, 3, 0, 2, -1, 4,
     0]]
sh_ssp245_mean = [
    1.1, 0.4, 1.7, 0.8, 1.3,
    0.6, 1.5, 0.2, 1.0, 1.8, 0.5, 1.2, 0.7, 1.6, 0.3,
    1.4, 0.8, 1.9, 0.5, 1.1, 0.2, 1.5, 0.9, 0.4, 1.3,
    0.7, 1.6, 1.0, 0.3, 1.2, 1.8, 0.6, 1.4, 0.9, 0.5,
    1.3, 0.8, 1.7, 0.4, 1.1, 0.6, 1.5, 0.2, 1.0, 1.6,
    0.9, 0.3, 1.4, 0.7, 1.2, 0.5, 1.7, 1.0, 0.4, 1.3,
    0.8, 1.5, 0.6, 1.1, 0.2, 1.4, 0.9, 1.6, 0.5, 1.0,
    0.4, 1.2, 0.7, 1.5, 0.3, 1.0, 1.4, 0.6, 1.1, 0.8,
    1.3, 0.5, 1.0, 0.2, 1.2, 0.7, 1.5, 0.4, 0.9, 1.1,
    0.6]
sh_ssp245_runs = [
    [2, -1, 5, 0, 3,
     8, -2, 3, -6, 4, 1, -3, 5, 0, 2,
     -1, 4, 1, 6, -3, 2, 7, -1, 3, 0,
     5, -2, 2, 7, 0, -3, 4, 1, 6, -1,
     2, 5, -2, 3, 8, 0, 4, -1, 2, 6,
     -1, 3, 0, 5, -3, 2, 6, 1, -2, 4,
     1, 5, -2, 3, 0, 6, -1, 2, 4, -3,
     3, 0, 5, -1, 2, 6, 1, -2, 4, 0,
     2, -1, 5, 3, -2, 4, 1, 6, -1, -5,
     3],
    [-1, 3, -3, 2, 0,
     4, 1, -2, 3, -4, 0, 5, -1, 2, -3,
     3, 0, -2, 4, 1, -4, 2, -1, 5, 1,
     -2, 3, 0, -3, 4, 2, -1, 3, -4, 2,
     0, -3, 4, 1, -2, 3, 0, 5, -2, 1,
     3, -2, 4, 0, 2, -4, 1, 3, -1, 2,
     -3, 2, 0, 4, -2, 1, 3, -1, 5, 0,
     2, -3, 1, 4, -1, 2, -2, 3, 0, -4,
     1, 3, -2, 0, 4, -3, 2, 0, 3, 1,
     -2],
    [3, 0, -2, 4, 1,
     -1, 3, 5, 0, -2, 3, 1, -3, 4, 2,
     0, -2, 3, 1, 5, -1, 2, 0, -3, 4,
     1, 3, -2, 0, 2, 5, -1, 3, 1, -2,
     4, 0, 2, -3, 1, 3, -1, 2, 5, 0,
     2, -1, 3, 1, -2, 4, 0, -3, 2, 3,
     0, 4, 1, -2, 3, -1, 5, 2, 0, 1,
     -2, 3, 1, 4, 0, -1, 3, -3, 2, 4,
     0, 2, -2, 5, 1, 3, -1, 2, 4, -4,
     2]]
sh_ssp370_mean = [
    0.5, 1.3, 0.9, 0.2, 1.6,
    1.0, 0.4, 1.4, 0.8, 1.9, 0.3, 1.1, 0.6, 1.5, 0.9,
    0.2, 1.2, 0.7, 1.6, 1.0, 0.4, 1.3, 0.8, 1.8, 2.5,
    1.1, 0.5, 1.4, 0.9, 0.3, 1.5, 0.7, 1.2, 0.4, 1.0,
    1.6, 0.8, 0.2, 1.3, 0.6, 1.1, 0.4, 1.5, 0.9, 0.3,
    1.2, 0.6, 1.4, 0.1, 0.9, 1.3, 0.5, 1.0, 1.6, 0.7,
    0.3, 1.1, 0.8, 1.5, 0.4, 1.2, 0.6, 1.0, 0.2, 1.4,
    0.9, 0.5, 1.3, 0.7, 1.1, 0.2, 1.4, 0.8, 0.4, 1.2,
    0.6, 1.0, 0.3, 1.3, 0.8, 0.5, 1.1, 0.2, 0.9, 0.6,
    -0.3]
sh_ssp370_runs = [
    [4, 0, 6, -2, 3,
     1, 5, -1, 3, 7, 0, 4, -2, 2, 5,
     -1, 3, 6, 0, 4, -3, 2, 5, 1, 3,
     5, -1, 2, 4, -3, 1, 6, 0, 9, 2,
     -1, 4, 2, -2, 5, 0, 3, -3, 1, -7,
     3, 5, -1, 2, 6, -2, 4, 0, 3, -1,
     2, 4, -2, 9, 1, 3, -1, 5, 0, 2,
     4, -1, 6, 2, 0, 3, -2, 5, 1, 4,
     -1, 3, 8, 0, 2, 5, -2, 4, 1, -1,
     2],
    [-2, 3, 1, -3, 2,
     3, -1, 2, -3, 1, 4, -2, 6, 0, -1,
     2, -3, 1, 4, -2, 0, 3, -4, 2, 5,
     -2, 2, 0, -3, 3, 1, -4, 2, 0, 3,
     2, -3, 1, 4, -1, 2, -4, 3, 0, -2,
     -1, 2, 4, -3, 1, 3, -2, 0, -4, 2,
     3, -1, 2, 0, -3, 4, 1, -2, 2, 6,
     -2, 3, 0, -3, 4, 1, -1, 2, -4, 0,
     3, -2, 1, 4, -3, 0, 2, -1, 4, -6,
     1],
    [0, 3, -1, 2, 5,
     -2, 2, 0, 4, -1, 3, 1, -3, 4, 0,
     3, 1, -2, 2, 5, 0, -1, 4, 2, -2,
     0, 4, 2, -1, 5, -3, 1, 3, 0, 2,
     -2, 1, 4, 0, 3, -1, 2, -3, 4, 1,
     0, 3, -2, 4, 1, -1, 3, 0, 5, -2,
     2, 0, 4, 1, -2, 3, 5, 0, 2, -1,
     3, 1, -1, 4, 2, 0, 3, -2, 1, 5,
     -1, 2, 4, 0, 3, -2, 1, 5, 0, 3,
     -2]]
sh_ssp585_mean = [
    1.2, 0.5, 1.6, 0.9, 0.3,
    1.4, 0.8, 1.9, 0.6, 1.2, 0.3, 1.5, 1.0, 0.4, 1.7,
    0.9, 1.3, 0.5, 1.8, 1.1, 0.6, 1.4, 0.2, 1.0, 1.6,
    0.7, 1.2, 1.9, 0.8, 1.4, 0.4, 1.1, 1.7, 0.6, 1.3,
    1.0, 0.5, 1.5, 0.9, 1.8, 2.6, 1.2, 0.7, 1.4, 0.8,
    1.6, 1.1, 0.5, 1.3, 0.9, 1.7, 0.4, 1.2, 0.8, 1.5,
    1.0, 0.6, 1.4, 1.9, 0.7, 1.2, 0.4, 1.6, 1.1, 0.8,
    1.3, 0.5, 1.0, 1.6, 0.9, 0.3, 1.4, 0.8, 1.2, 0.6,
    1.1, 1.5, 0.7, 1.2, 0.4, 1.0, 1.6, 0.8, 1.3, 0.5,
    1.5]
sh_ssp585_runs = [
    [3, 6, -1, 2, 5,
     0, 4, 6, -2, 3, 1, 5, -1, 3, 2,
     4, -2, 2, 6, 0, 3, -3, 5, 1, -1,
     3, 5, 0, -2, 4, 7, 1, -1, 3, 5,
     0, 3, -8, 2, 5, 11, 3, -2, 4, 1,
     5, -1, 3, 9, 0, 4, -2, 6, 2, 0,
     3, 9, -1, 4, 2, 6, 0, 3, -2, 5,
     1, 4, 8, -1, 3, 0, 5, -2, 4, 2,
     6, 0, 3, -2, 5, 1, 4, 8, -1, 3,
     9],
    [-3, 2, 0, 4, -2,
     2, -4, 1, 3, -1, 5, 0, -5, 2, 4,
     -2, 1, 4, -1, 3, 0, -3, 2, 5, -1,
     2, -1, 4, 0, -3, 2, 5, 0, -2, 3,
     -1, 4, 1, -3, 2, 0, 5, -2, 3, -1,
     2, 4, -2, 1, -4, 3, 0, 2, -3, 1,
     4, -2, 1, 3, -1, 2, -4, 1, 3, 0,
     -3, 2, 0, 3, -2, 4, 1, -1, 2, -2,
     0, 3, -2, 1, 4, -1, 2, 0, -4, 2,
     -1],
    [2, -1, 3, 0, 4,
     1, -2, 3, 5, 0, 2, -1, 4, 1, -3,
     2, 4, 0, 3, -2, 1, 5, -1, 2, 0,
     4, 1, -2, 3, 0, 5, 2, -1, 3, 1,
     -2, 2, 4, 1, -1, 3, 0, 5, 2, -2,
     3, 0, 2, -1, 4, 1, 6, -2, 3, 0,
     1, 4, -1, 2, 5, 0, 3, -2, 4, 1,
     2, -1, 3, 1, 5, -2, 2, 0, 4, 1,
     3, 0, -2, 4, 1, 3, -1, 2, 5, 0,
     3]]

scen_labels = ['SSP1-2.6', 'SSP2-4.5', 'SSP3-7.0', 'SSP5-8.5']
run_colors = ['#3fdede', '#2b2bbf', '#33cc33', '#c43434']
mean_colors = ['#00ffff', '#0000ff', '#00ee00', '#ff0000']


def draw_panel(ax, hist_runs, hist_mean, ssp_runs, ssp_means, title, ylabel):
    for run in hist_runs:
        ax.plot(np.arange(1850, 1850 + len(run)), run, color='#3c3c3c', lw=0.8)
    ax.plot(np.arange(1850, 1850 + len(hist_mean)), hist_mean, color='k', lw=2.6)
    # ensemble means sit under the individual runs
    for m, c in zip(ssp_means, mean_colors):
        ax.plot(np.arange(2015, 2015 + len(m)), m, color=c, lw=2.4, zorder=2)
    for k in range(3):
        for runs, c in zip(ssp_runs, run_colors):
            run = runs[k]
            ax.plot(np.arange(2015, 2015 + len(run)), run, color=c, lw=0.9, zorder=3)
    ax.axhline(0, color='k', lw=2.2, zorder=5)

    ax.set_xlim(1850, 2100)
    ax.set_ylim(-25, 15)
    ax.set_xticks(np.arange(1860, 2101, 20))
    ax.set_yticks(np.arange(-25, 16, 5))
    ax.xaxis.set_minor_locator(MultipleLocator(5))
    ax.yaxis.set_minor_locator(MultipleLocator(1))
    ax.tick_params(which='both', direction='in', top=True, right=True, colors='#222222')
    ax.tick_params(which='major', length=9, width=1.2, labelsize=15.5, pad=8)
    ax.tick_params(which='minor', length=4.5, width=1)
    ax.grid(True, which='major', color='#d9d9d9', lw=1)
    ax.set_axisbelow(True)
    for s in ax.spines.values():
        s.set_color('#333333')
        s.set_linewidth(1.3)
    ax.set_title(title, fontsize=18.5, fontweight='bold', pad=5)
    ax.set_ylabel(ylabel, fontsize=16, fontweight='bold', labelpad=7)

    handles = [Line2D([], [], color='k', lw=3)]
    widths = [3, 2, 3, 2.5]
    for c, w in zip(mean_colors, widths):
        handles.append(Line2D([], [], color=c, lw=w))
    ax.legend(handles, ['Historical'] + scen_labels, loc='upper left',
              bbox_to_anchor=(0.005, 0.447), frameon=False, fontsize=18,
              handlelength=1.45, handletextpad=0.2, labelspacing=0.3,
              borderaxespad=0, borderpad=0.3)


fig = plt.figure(figsize=(12.4, 14.39), dpi=100)
ax_a = fig.add_axes([0.0968, 0.7130, 0.8758, 0.2613])
ax_b = fig.add_axes([0.0968, 0.3676, 0.8758, 0.2620])
ax_c = fig.add_axes([0.0968, 0.0229, 0.8758, 0.2627])

draw_panel(ax_a, glb_hist_runs, glb_hist_mean,
           [glb_ssp126_runs, glb_ssp245_runs, glb_ssp370_runs, glb_ssp585_runs],
           [glb_ssp126_mean, glb_ssp245_mean, glb_ssp370_mean, glb_ssp585_mean],
           'Annual Mean Global Snow Fall Anomaly (%) w.r.t. 1981-2010',
           'Global Snow Fall Anomaly (%)')
draw_panel(ax_b, nh_hist_runs, nh_hist_mean,
           [nh_ssp126_runs, nh_ssp245_runs, nh_ssp370_runs, nh_ssp585_runs],
           [nh_ssp126_mean, nh_ssp245_mean, nh_ssp370_mean, nh_ssp585_mean],
           'Annual Mean Northern Hemisphere Snow Fall Anomaly (%) w.r.t. 1981-2010',
           'NH Snow Fall Anomaly (%)')
draw_panel(ax_c, sh_hist_runs, sh_hist_mean,
           [sh_ssp126_runs, sh_ssp245_runs, sh_ssp370_runs, sh_ssp585_runs],
           [sh_ssp126_mean, sh_ssp245_mean, sh_ssp370_mean, sh_ssp585_mean],
           'Annual Mean Southern Hemisphere Snow Fall Anomaly (%) w.r.t. 1981-2010',
           'SH Snow Fall Anomaly (%)')

fig.text(0.004, 0.979, '(a)', fontsize=18, fontweight='bold', va='center')
fig.text(0.004, 0.635, '(b)', fontsize=18, fontweight='bold', va='center')
fig.text(0.004, 0.291, '(c)', fontsize=18, fontweight='bold', va='center')

fig.savefig('out.png', dpi=100)
